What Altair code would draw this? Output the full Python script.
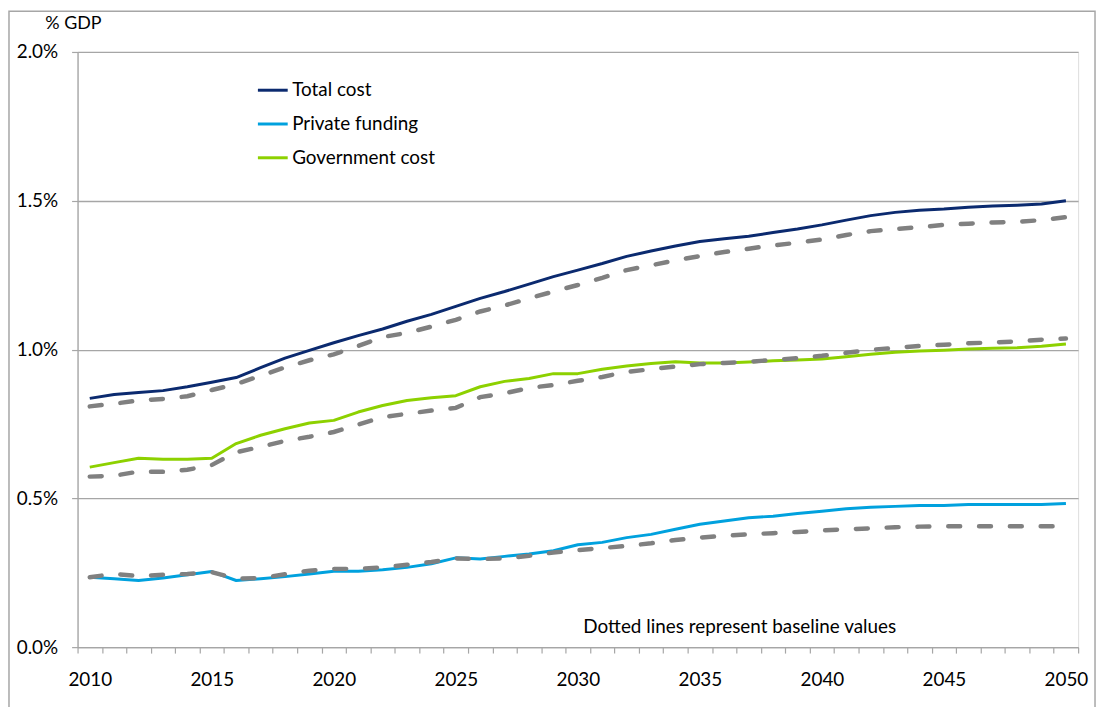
import altair as alt
import pandas as pd

years = list(range(2010, 2051))

total_cost = [0.836, 0.849, 0.856, 0.862, 0.875, 0.890, 0.906, 0.939, 0.971, 0.997,
              1.023, 1.047, 1.069, 1.095, 1.118, 1.145, 1.172, 1.195, 1.220, 1.245,
              1.267, 1.289, 1.313, 1.331, 1.348, 1.363, 1.372, 1.381, 1.393, 1.405,
              1.419, 1.435, 1.450, 1.461, 1.468, 1.472, 1.478, 1.482, 1.485, 1.489, 1.500]
private_funding = [0.235, 0.230, 0.224, 0.232, 0.243, 0.254, 0.224, 0.230, 0.237, 0.246,
                   0.255, 0.255, 0.260, 0.268, 0.280, 0.300, 0.296, 0.305, 0.313, 0.324,
                   0.344, 0.352, 0.368, 0.379, 0.396, 0.413, 0.424, 0.435, 0.440, 0.449,
                   0.457, 0.465, 0.470, 0.473, 0.476, 0.476, 0.479, 0.479, 0.479, 0.479, 0.483]
government_cost = [0.605, 0.620, 0.635, 0.631, 0.631, 0.635, 0.684, 0.712, 0.734, 0.753,
                   0.762, 0.790, 0.812, 0.829, 0.838, 0.845, 0.875, 0.893, 0.903, 0.919,
                   0.919, 0.934, 0.945, 0.953, 0.959, 0.955, 0.955, 0.958, 0.962, 0.965,
                   0.968, 0.976, 0.984, 0.991, 0.995, 0.998, 1.002, 1.004, 1.006, 1.011, 1.019]

total_base = [0.809, 0.818, 0.829, 0.834, 0.843, 0.864, 0.884, 0.912, 0.940, 0.964,
              0.984, 1.012, 1.042, 1.056, 1.077, 1.100, 1.128, 1.148, 1.172, 1.195,
              1.217, 1.241, 1.267, 1.283, 1.300, 1.314, 1.328, 1.339, 1.350, 1.359,
              1.370, 1.385, 1.398, 1.405, 1.411, 1.419, 1.423, 1.427, 1.429, 1.435, 1.445]
private_base = [0.235, 0.246, 0.239, 0.243, 0.246, 0.252, 0.230, 0.232, 0.245, 0.257,
                0.263, 0.263, 0.268, 0.277, 0.286, 0.298, 0.296, 0.298, 0.307, 0.318,
                0.326, 0.333, 0.340, 0.349, 0.360, 0.368, 0.374, 0.379, 0.383, 0.387,
                0.392, 0.396, 0.399, 0.403, 0.405, 0.406, 0.406, 0.406, 0.406, 0.406, 0.406]
government_base = [0.573, 0.576, 0.590, 0.589, 0.596, 0.612, 0.655, 0.673, 0.693, 0.707,
                   0.723, 0.748, 0.773, 0.784, 0.795, 0.804, 0.840, 0.853, 0.871, 0.881,
                   0.895, 0.908, 0.925, 0.934, 0.943, 0.951, 0.955, 0.959, 0.965, 0.971,
                   0.979, 0.989, 0.999, 1.006, 1.012, 1.016, 1.021, 1.024, 1.027, 1.033, 1.037]

series_names = ["Total cost", "Private funding", "Government cost"]
series_colors = ["#0B2A6F", "#00A1DE", "#8DD100"]

y_ticks = [0.0, 0.5, 1.0, 1.5, 2.0]

note_text = ["Dotted lines represent baseline values"]
note_year = [2037]
note_value = [0.068]

FONT = "Lato"

main = pd.DataFrame({
    "year": years * 3,
    "value": total_cost + private_funding + government_cost,
    "series": [series_names[0]] * 41 + [series_names[1]] * 41 + [series_names[2]] * 41,
})
base = pd.DataFrame({
    "year": years * 3,
    "value": total_base + private_base + government_base,
    "series": ["Total base"] * 41 + ["Private base"] * 41 + ["Government base"] * 41,
})
notes = pd.DataFrame({"year": note_year, "value": note_value, "text": note_text})

x_scale = alt.Scale(type="band", domain=years, paddingInner=0, paddingOuter=0)
y_scale = alt.Scale(domain=[0, 2], nice=False)

x_axis = alt.Axis(
    tickBand="extent",
    labelExpr="datum.value % 5 == 0 ? datum.label : ''",
    labelAngle=0, labelOverlap=False, labelBound=False, labelFlush=False,
    grid=False, tickSize=6, tickColor="#A6A6A6", tickWidth=1.2,
    domainColor="#A6A6A6", domainWidth=1.3,
    labelFont=FONT, labelFontSize=19, labelColor="#000000", labelPadding=18,
    title=None,
)
y_axis = alt.Axis(
    values=y_ticks,
    labelExpr="format(datum.value, '.1f') + '%'",
    grid=True, gridColor="#A6A6A6", gridWidth=1.3,
    tickSize=6, tickColor="#A6A6A6", tickWidth=1.2,
    domainColor="#A6A6A6", domainWidth=1.3,
    labelFont=FONT, labelFontSize=19, labelColor="#000000", labelPadding=14,
    title="% GDP", titleAngle=0, titleAlign="left", titleBaseline="middle",
    titleX=-33, titleY=-29, titleFont=FONT, titleFontSize=18,
    titleFontWeight="normal", titleColor="#000000",
)

frame = alt.Chart(pd.DataFrame({"k": [0]})).mark_rect(
    fill=None, stroke="#A6A6A6", strokeWidth=1.5
).encode(
    x=alt.value(-69), x2=alt.value(1024), y=alt.value(-41), y2=alt.value(720)
)

lines = alt.Chart(main).mark_line(strokeWidth=3, strokeJoin="round").encode(
    x=alt.X("year:O", scale=x_scale, axis=x_axis),
    y=alt.Y("value:Q", scale=y_scale, axis=y_axis),
    color=alt.Color(
        "series:N",
        scale=alt.Scale(domain=series_names, range=series_colors),
        sort=series_names,
        legend=alt.Legend(
            title=None, orient="none", legendX=180, legendY=22,
            symbolType="stroke", symbolSize=900, symbolStrokeWidth=3,
            labelFont=FONT, labelFontSize=19, labelColor="#000000",
            labelOffset=3, rowPadding=7, padding=0,
        ),
    ),
)

baselines = alt.Chart(base).mark_line(
    strokeWidth=4.5, color="#808080", strokeDash=[12, 19], strokeCap="round"
).encode(
    x=alt.X("year:O", scale=x_scale),
    y=alt.Y("value:Q", scale=y_scale),
    detail="series:N",
)

note = alt.Chart(notes).mark_text(
    font=FONT, fontSize=19, color="#000000", align="center", baseline="middle", dx=-9
).encode(
    x=alt.X("year:O", scale=x_scale),
    y=alt.Y("value:Q", scale=y_scale),
    text="text:N",
)

chart = alt.layer(frame, lines, baselines, note).properties(
    width=1007, height=599,
    autosize=alt.AutoSizeParams(type="none"),
    padding={"left": 70, "top": 42, "right": 20, "bottom": 58},
).configure_view(stroke=None).configure(background="#FFFFFF")

chart.save("out.html", embed_options={"renderer": "svg", "actions": False})
